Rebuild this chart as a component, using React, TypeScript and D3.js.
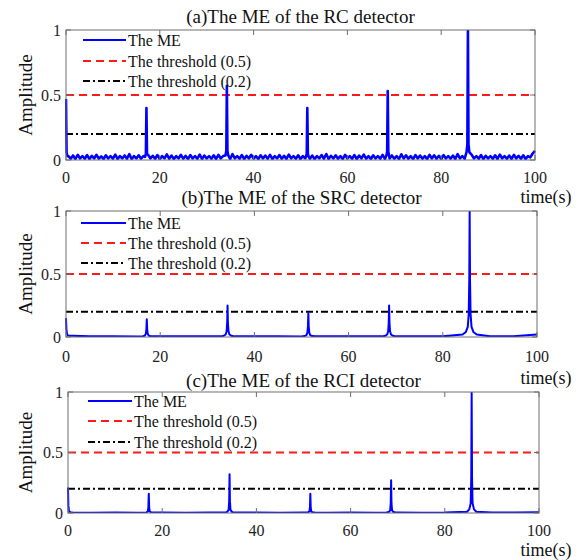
import React from "react";
import * as d3 from "d3";

// ---------- data ----------
const xTicks = [0, 20, 40, 60, 80, 100];
const yTicks = [0, 0.5, 1];
const yTickLabels = ["0", "0.5", "1"];
const titles = [
  "(a)The ME of the RC detector",
  "(b)The ME of the SRC detector",
  "(c)The ME of the RCI detector",
];
const legendLabels = ["The ME", "The threshold (0.5)", "The threshold (0.2)"];
const thresholds = [0.5, 0.2];

const spikeTimes = [0, 17.15, 34.3, 51.45, 68.6, 85.7];
const peaksA = [0.47, 0.4, 0.57, 0.4, 0.53, 1.0];
const peaksB = [0.15, 0.14, 0.25, 0.19, 0.25, 1.0];
const peaksC = [0.21, 0.16, 0.32, 0.16, 0.27, 1.0];

// noise floor of (a), sampled every 0.5 s
const floorA = [
  0.06, 0.03, 0.01, 0.035, 0.008, 0.04, 0.012, 0.03, 0.01, 0.038,
  0.008, 0.032, 0.012, 0.04, 0.01, 0.028, 0.008, 0.036, 0.012, 0.03,
  0.01, 0.042, 0.008, 0.03, 0.012, 0.035, 0.01, 0.045, 0.008, 0.03,
  0.012, 0.036, 0.01, 0.03, 0.008, 0.04, 0.012, 0.032, 0.01, 0.038,
  0.008, 0.03, 0.012, 0.044, 0.01, 0.034, 0.008, 0.03, 0.012, 0.04,
  0.01, 0.032, 0.008, 0.038, 0.012, 0.03, 0.01, 0.042, 0.008, 0.034,
  0.012, 0.03, 0.01, 0.036, 0.008, 0.04, 0.012, 0.03, 0.01, 0.035,
  0.008, 0.045, 0.012, 0.03, 0.01, 0.038, 0.008, 0.032, 0.012, 0.04,
  0.01, 0.03, 0.008, 0.036, 0.012, 0.034, 0.01, 0.04, 0.008, 0.03,
  0.012, 0.038, 0.01, 0.032, 0.008, 0.042, 0.012, 0.03, 0.01, 0.036,
  0.008, 0.03, 0.012, 0.04, 0.01, 0.034, 0.008, 0.03, 0.012, 0.038,
  0.01, 0.046, 0.008, 0.032, 0.012, 0.036, 0.01, 0.03, 0.008, 0.04,
  0.012, 0.03, 0.01, 0.038, 0.008, 0.034, 0.012, 0.042, 0.01, 0.03,
  0.008, 0.036, 0.012, 0.03, 0.01, 0.04, 0.008, 0.032, 0.012, 0.035,
  0.01, 0.03, 0.008, 0.044, 0.012, 0.036, 0.01, 0.03, 0.008, 0.038,
  0.012, 0.034, 0.01, 0.03, 0.008, 0.04, 0.012, 0.036, 0.01, 0.032,
  0.008, 0.038, 0.012, 0.03, 0.01, 0.034, 0.008, 0.045, 0.012, 0.03,
  0.01, 0.036, 0.008, 0.04, 0.012, 0.03, 0.01, 0.038, 0.008, 0.032,
  0.012, 0.03, 0.01, 0.036, 0.008, 0.042, 0.012, 0.03, 0.01, 0.034,
  0.008, 0.04, 0.012, 0.032, 0.01, 0.036, 0.008, 0.03, 0.02, 0.05,
  0.07,
];
// floors of (b) and (c), sampled every 5 s
const floorB = [
  0.01, 0.005, 0.006, 0.004, 0.005, 0.006, 0.005, 0.004, 0.006, 0.005,
  0.004, 0.005, 0.006, 0.005, 0.004, 0.006, 0.005, 0.004, 0.006, 0.006, 0.02,
];
const floorC = [
  0.005, 0.003, 0.004, 0.003, 0.004, 0.003, 0.004, 0.003, 0.004, 0.003,
  0.004, 0.003, 0.004, 0.003, 0.004, 0.003, 0.004, 0.003, 0.004, 0.004, 0.006,
];

// spike shapes: time offsets (s) and fraction of the peak
const profileOffA = [-0.3, -0.12, 0, 0.12, 0.3];
const profileFracA = [0.06, 0.12, 1, 0.12, 0.06];
const profileOffB = [-1.5, -0.8, -0.4, -0.2, -0.08, 0, 0.08, 0.2, 0.4, 0.8, 1.5];
const profileFracB = [0.02, 0.04, 0.08, 0.18, 0.45, 1, 0.45, 0.18, 0.08, 0.04, 0.02];
const profileOffC = [-1, -0.5, -0.2, -0.08, 0, 0.08, 0.2, 0.5, 1];
const profileFracC = [0.01, 0.03, 0.08, 0.3, 1, 0.3, 0.08, 0.03, 0.01];

type Pt = [number, number];

function buildSeries(
  floor: number[],
  step: number,
  peaks: number[],
  offs: number[],
  fracs: number[]
): Pt[] {
  const w = d3.max(offs.map(Math.abs)) as number;
  const pts: Pt[] = [];
  floor.forEach((v, i) => {
    const t = i * step;
    if (spikeTimes.every((s) => Math.abs(t - s) >= w)) pts.push([t, v]);
  });
  spikeTimes.forEach((s, k) => {
    offs.forEach((o, j) => {
      const t = s + o;
      if (t < 0 || t > 100) return;
      const nearest = floor[Math.min(floor.length - 1, Math.round(t / step))];
      pts.push([t, Math.max(nearest, fracs[j] * peaks[k])]);
    });
  });
  pts.sort((a, b) => a[0] - b[0]);
  return pts;
}

const seriesA = buildSeries(floorA, 0.5, peaksA, profileOffA, profileFracA);
const seriesB = buildSeries(floorB, 5, peaksB, profileOffB, profileFracB);
const seriesC = buildSeries(floorC, 5, peaksC, profileOffC, profileFracC);

// ---------- layout ----------
const panels = [
  { left: 66, right: 535, top: 30, bottom: 160, titleY: 16, tickY: 177, timeY: 197, lw: 2.6, leg: { x0: 83, x1: 126, tx: 128, ys: [40, 61, 81] }, data: seriesA },
  { left: 66, right: 537, top: 211, bottom: 337, titleY: 197, tickY: 356, timeY: 378, lw: 2, leg: { x0: 81, x1: 126, tx: 128, ys: [223, 243, 263] }, data: seriesB },
  { left: 68, right: 539, top: 392, bottom: 513, titleY: 380, tickY: 530, timeY: 550, lw: 2, leg: { x0: 88, x1: 132, tx: 134, ys: [401, 421, 442] }, data: seriesC },
];

const FONT = "'Liberation Serif', 'Times New Roman', serif";
const BLUE = "#0000ff";
const RED = "#ff1a1a";
const AXIS = "#6e6e6e";
const RED_DASH = "8,5";
const BLACK_DASH = "7,3,2,3";

function Panel({ p, idx }: { p: (typeof panels)[number]; idx: number }) {
  const x = d3.scaleLinear().domain([0, 100]).range([p.left, p.right]);
  const y = d3.scaleLinear().domain([0, 1]).range([p.bottom, p.top]);
  const line = d3
    .line<Pt>()
    .x((d) => x(d[0]))
    .y((d) => y(d[1]));
  const clipId = `clip${idx}`;
  const tl = 5;
  return (
    <g>
      <defs>
        <clipPath id={clipId}>
          <rect x={p.left - 1} y={p.top} width={p.right - p.left + 2} height={p.bottom - p.top} />
        </clipPath>
      </defs>
      <rect x={p.left} y={p.top} width={p.right - p.left} height={p.bottom - p.top} fill="#fff" />
      {/* threshold lines */}
      <line x1={x(0)} x2={x(100)} y1={y(thresholds[0])} y2={y(thresholds[0])} stroke={RED} strokeWidth={2} strokeDasharray={RED_DASH} />
      <line x1={x(0)} x2={x(100)} y1={y(thresholds[1])} y2={y(thresholds[1])} stroke="#000" strokeWidth={2} strokeDasharray={BLACK_DASH} />
      {/* signal */}
      <path d={line(p.data) || ""} fill="none" stroke={BLUE} strokeWidth={p.lw} strokeLinejoin="round" clipPath={`url(#${clipId})`} />
      {/* frame */}
      <rect x={p.left} y={p.top} width={p.right - p.left} height={p.bottom - p.top} fill="none" stroke={AXIS} strokeWidth={1} />
      {xTicks.map((t) => (
        <g key={"xt" + t}>
          <line x1={x(t)} x2={x(t)} y1={p.bottom} y2={p.bottom - tl} stroke={AXIS} />
          <line x1={x(t)} x2={x(t)} y1={p.top} y2={p.top + tl} stroke={AXIS} />
          <text x={x(t)} y={p.tickY} textAnchor="middle" dominantBaseline="central" fontFamily={FONT} fontSize={16} fill="#222">
            {t}
          </text>
        </g>
      ))}
      {yTicks.map((t, i) => (
        <g key={"yt" + t}>
          <line x1={p.left} x2={p.left + tl} y1={y(t)} y2={y(t)} stroke={AXIS} />
          <line x1={p.right} x2={p.right - tl} y1={y(t)} y2={y(t)} stroke={AXIS} />
          <text x={p.left - 5} y={y(t)} textAnchor="end" dominantBaseline="central" fontFamily={FONT} fontSize={16} fill="#222">
            {yTickLabels[i]}
          </text>
        </g>
      ))}
      <text x={(p.left + p.right) / 2} y={p.titleY} textAnchor="middle" dominantBaseline="central" fontFamily={FONT} fontSize={19} fill="#111">
        {titles[idx]}
      </text>
      <text
        transform={`translate(25,${(p.top + p.bottom) / 2}) rotate(-90)`}
        textAnchor="middle"
        dominantBaseline="central"
        fontFamily={FONT}
        fontSize={19}
        fill="#111"
      >
        Amplitude
      </text>
      <text x={546} y={p.timeY} textAnchor="middle" dominantBaseline="central" fontFamily={FONT} fontSize={18} fill="#111">
        time(s)
      </text>
      {/* legend */}
      <line x1={p.leg.x0} x2={p.leg.x1} y1={p.leg.ys[0]} y2={p.leg.ys[0]} stroke={BLUE} strokeWidth={2} />
      <line x1={p.leg.x0} x2={p.leg.x1} y1={p.leg.ys[1]} y2={p.leg.ys[1]} stroke={RED} strokeWidth={2} strokeDasharray={RED_DASH} />
      <line x1={p.leg.x0} x2={p.leg.x1} y1={p.leg.ys[2]} y2={p.leg.ys[2]} stroke="#000" strokeWidth={2} strokeDasharray={BLACK_DASH} />
      {legendLabels.map((l, i) => (
        <text key={l} x={p.leg.tx} y={p.leg.ys[i]} dominantBaseline="central" fontFamily={FONT} fontSize={16} fill="#111">
          {l}
        </text>
      ))}
    </g>
  );
}

export default function App() {
  return (
    <svg width={584} height={560} style={{ position: "absolute", left: 0, top: 0, background: "#fff" }}>
      <rect width={584} height={560} fill="#fff" />
      {panels.map((p, i) => (
        <Panel key={i} p={p} idx={i} />
      ))}
    </svg>
  );
}
